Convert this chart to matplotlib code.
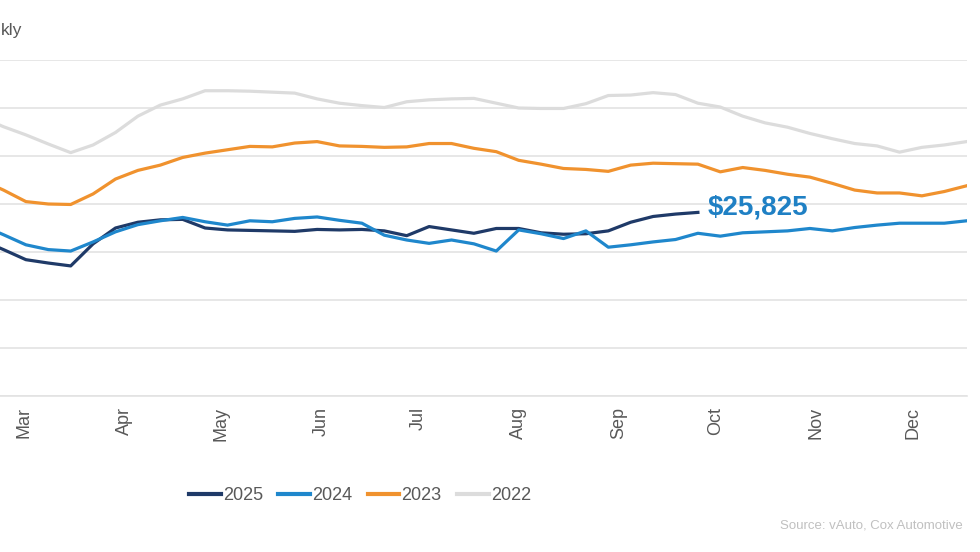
import matplotlib
matplotlib.use("Agg")
import matplotlib.pyplot as plt

plt.rcParams['font.family'] = ['Liberation Sans', 'DejaVu Sans']

# weekly listing price, week-of-year numbers (only the part that shows in the picture)
weeks = list(range(8, 53))

p2022 = [27810, 27610, 27440, 27250, 27070, 27230, 27490, 27830, 28060, 28190,
         28360, 28360, 28350, 28330, 28310, 28190, 28100, 28050, 28010, 28130,
         28170, 28190, 28200, 28100, 28000, 27990, 27990, 28090, 28260, 28270,
         28320, 28280, 28100, 28020, 27830, 27690, 27600, 27470, 27360, 27260,
         27210, 27080, 27180, 27230, 27300]
p2023 = [26500, 26290, 26050, 26000, 25990, 26210, 26520, 26700, 26810, 26970,
         27060, 27130, 27200, 27190, 27270, 27300, 27210, 27200, 27180, 27190,
         27260, 27260, 27160, 27090, 26910, 26830, 26740, 26720, 26680, 26810,
         26850, 26840, 26830, 26670, 26760, 26700, 26620, 26560, 26430, 26290,
         26230, 26230, 26170, 26260, 26380]
p2024 = [25560, 25360, 25150, 25050, 25020, 25210, 25420, 25570, 25650, 25720,
         25630, 25560, 25650, 25630, 25700, 25730, 25660, 25600, 25350, 25250,
         25180, 25250, 25170, 25020, 25460, 25380, 25280, 25440, 25100, 25150,
         25210, 25260, 25390, 25330, 25400, 25420, 25440, 25490, 25440, 25510,
         25560, 25600, 25600, 25600, 25650]
p2025 = [25250, 25050, 24840, 24770, 24710, 25170, 25500, 25620, 25670, 25680,
         25500, 25460, 25450, 25440, 25430, 25470, 25460, 25470, 25440, 25340,
         25530, 25460, 25390, 25490, 25490, 25400, 25370, 25380, 25440, 25620,
         25740, 25790, 25825]

series_names = ['2025', '2024', '2023', '2022']
series_vals = [p2025, p2024, p2023, p2022]
colors = ['#1f3a68', '#1f87cc', '#f0922e', '#dcdcdc']

months = ['Mar', 'Apr', 'May', 'Jun', 'Jul', 'Aug', 'Sep', 'Oct', 'Nov', 'Dec']
month_start_doy = [59, 90, 120, 151, 181, 212, 243, 273, 304, 334]

W, H = 980, 552
fig = plt.figure(figsize=(W / 100, H / 100), dpi=100)
# the chart is cropped on the left, so the axes run past the canvas edge
ax = fig.add_axes([-175.7 / W, 156 / H, 1142.4 / W, 336 / H])

handles = []
for name, vals, c in zip(series_names, series_vals, colors):
    ln, = ax.plot(weeks[:len(vals)], vals, color=c, lw=2.3, solid_joinstyle='round')
    handles.append(ln)

# label on the last 2025 point
ax.annotate('${:,}'.format(p2025[-1]), xy=(weeks[len(p2025) - 1], p2025[-1]),
            xytext=(10, 5), textcoords='offset pixels', va='center', ha='left',
            fontsize=20, fontweight='bold', color='#1f80c4')

ax.set_xlim(1, 52)
ax.set_ylim(22000, 29000)
ax.set_yticks(range(22000, 29001, 1000))
ax.set_yticklabels([])
ax.grid(axis='y', color='#e3e3e3', lw=1.2)
ax.set_axisbelow(True)
for s in ['top', 'left', 'right']:
    ax.spines[s].set_visible(False)
ax.spines['bottom'].set_color('#e3e3e3')
ax.spines['bottom'].set_linewidth(1.2)

tick_pos = [9.92 + (d - 59) / 6.93 for d in month_start_doy]
ax.set_xticks(tick_pos)
ax.set_xticklabels(months, rotation=90)
ax.tick_params(axis='both', length=0)
ax.tick_params(axis='x', pad=8, labelsize=13, labelcolor='#595959')

# what is left of the cropped title
fig.text(1 / W, 1 - 30.5 / H, 'kly', ha='left', va='center',
         fontsize=12.5, color='#595959')

leg_handles = [plt.Line2D([], [], color=c, lw=3) for c in colors]
fig.legend(leg_handles, series_names, loc='center', bbox_to_anchor=(360 / W, 1 - 495.7 / H),
           ncol=4, frameon=False, fontsize=13, handlelength=1.75, handletextpad=0.12,
           columnspacing=0.85, labelcolor='#595959')

fig.text(963 / W, 1 - 525.7 / H, 'Source: vAuto, Cox Automotive', ha='right', va='center',
         fontsize=9.5, color='#c0c0c0')

fig.savefig('out.png', dpi=100)
